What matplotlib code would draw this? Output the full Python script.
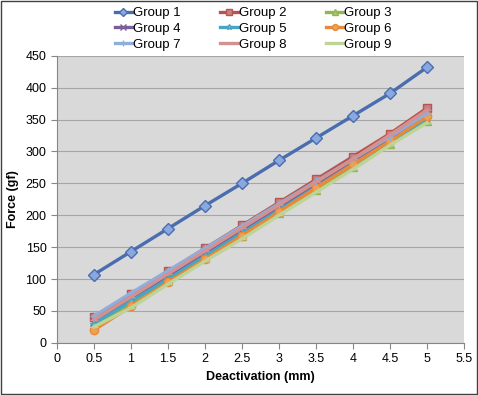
import matplotlib
matplotlib.use('Agg')
import matplotlib.pyplot as plt

plt.rcParams['font.family'] = ['Liberation Sans', 'DejaVu Sans']

deactivation = [0.5, 1, 1.5, 2, 2.5, 3, 3.5, 4, 4.5, 5]

group1 = [107, 143, 179, 215, 250, 286, 321, 356, 391, 432]
group2 = [40, 76, 112, 148, 184, 220, 256, 292, 328, 368]
group3 = [28, 62, 97, 133, 168, 204, 240, 276, 312, 348]
group4 = [33, 68, 104, 140, 176, 212, 248, 284, 320, 358]
group5 = [30, 65, 100, 136, 172, 208, 244, 280, 315, 352]
group6 = [20, 57, 95, 131, 168, 205, 243, 280, 316, 355]
group7 = [42, 78, 113, 148, 183, 218, 253, 288, 323, 360]
group8 = [36, 72, 108, 144, 180, 216, 252, 288, 326, 365]
group9 = [25, 55, 92, 128, 163, 200, 236, 272, 310, 345]

series = [
    ('Group 1', group1, '#4A6DB0', 'D', '#8AA8E0'),
    ('Group 2', group2, '#B85450', 's', '#C88080'),
    ('Group 3', group3, '#94B456', '^', '#A8C86A'),
    ('Group 4', group4, '#7A5E9C', 'x', '#7A5E9C'),
    ('Group 5', group5, '#4AA6C0', '*', '#7CC4D8'),
    ('Group 6', group6, '#E88A3A', 'o', '#F0A050'),
    ('Group 7', group7, '#8FAEDC', '+', '#8FAEDC'),
    ('Group 8', group8, '#D39290', '_', '#D39290'),
    ('Group 9', group9, '#BDD496', '_', '#BDD496'),
]

fig = plt.figure(figsize=(4.78, 3.95), dpi=100)
ax = fig.add_axes([0.119, 0.132, 0.852, 0.727])
ax.set_facecolor('#D9D9D9')

handles = []
for name, vals, col, mk, fc in series:
    h, = ax.plot(deactivation, vals, color=col, lw=2.4, marker=mk, ms=6,
                 markerfacecolor=fc, markeredgecolor=col, markeredgewidth=1.0,
                 label=name)
    handles.append(h)

ax.set_xlim(0, 5.5)
ax.set_ylim(0, 450)
ax.set_xticks([0, 0.5, 1, 1.5, 2, 2.5, 3, 3.5, 4, 4.5, 5, 5.5])
ax.set_xticklabels(['0', '0.5', '1', '1.5', '2', '2.5', '3', '3.5', '4', '4.5', '5', '5.5'])
ax.set_yticks(range(0, 451, 50))
ax.yaxis.grid(True, color='#A6A6A6', lw=0.8)
ax.set_axisbelow(True)
for side in ['top', 'right']:
    ax.spines[side].set_visible(False)
ax.spines['left'].set_color('#868686')
ax.spines['bottom'].set_color('#868686')
ax.tick_params(axis='both', labelsize=9, color='#868686', length=4, direction='out')

ax.set_xlabel('Deactivation (mm)', fontsize=9, fontweight='bold', labelpad=4)
ax.set_ylabel('Force (gf)', fontsize=9, fontweight='bold', labelpad=5)

# legend is filled row by row in the original
order = [0, 3, 6, 1, 4, 7, 2, 5, 8]
fig.legend([handles[i] for i in order], [series[i][0] for i in order],
           loc='upper center', bbox_to_anchor=(0.53, 1.005), ncol=3,
           fontsize=9.5, frameon=False,
           handlelength=1.3, handletextpad=0.1, columnspacing=3.0,
           labelspacing=0.25, borderpad=0.2, markerscale=0.7)

border = plt.Rectangle((0.002, 0.002), 0.996, 0.996, transform=fig.transFigure,
                       fill=False, edgecolor='#404040', lw=1.0)
fig.patches.append(border)

fig.savefig('out.png', dpi=100)
